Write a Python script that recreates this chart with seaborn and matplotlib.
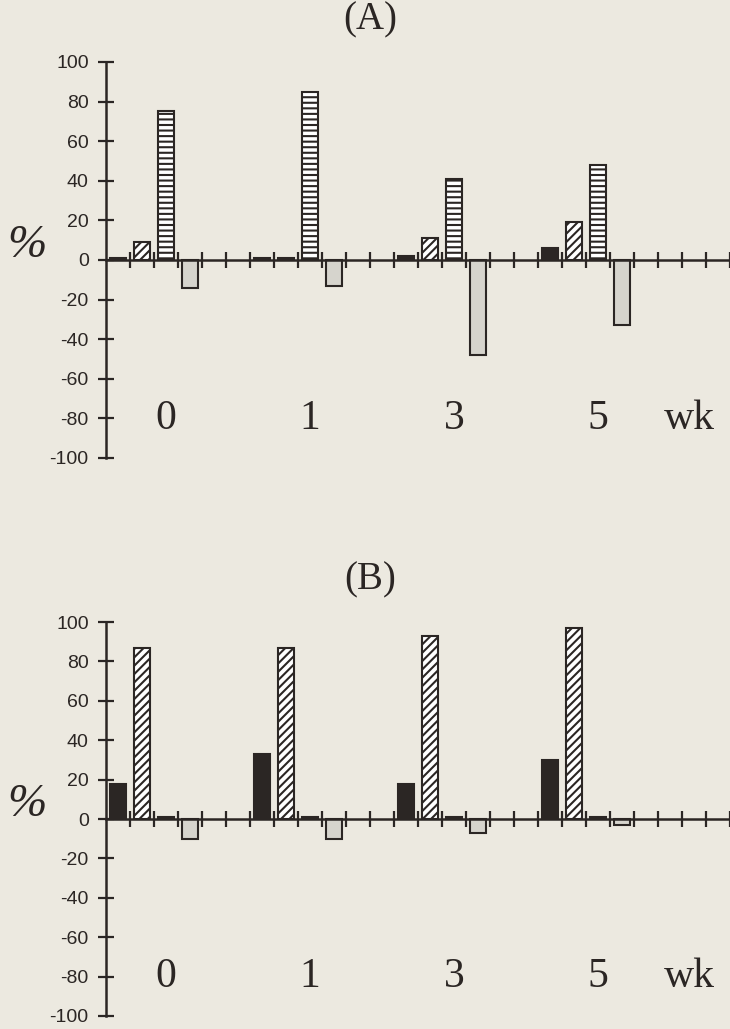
import matplotlib
matplotlib.use("Agg")
import matplotlib.pyplot as plt
import seaborn as sns
import pandas as pd
import numpy as np

# ---------------- data ----------------
weeks = ["0", "1", "3", "5"]
series = ["solid", "diag", "stripe", "dot"]

a_solid = [1, 1, 2, 6]
a_diag = [9, 1, 11, 19]
a_stripe = [75, 85, 41, 48]
a_dot = [-14, -13, -48, -33]

b_solid = [18, 33, 18, 30]
b_diag = [87, 87, 93, 97]
b_stripe = [1, 1, 1, 1]
b_dot = [-10, -10, -7, -3]

yticks = [-100, -80, -60, -40, -20, 0, 20, 40, 60, 80, 100]

# ---------------- style ----------------
BG = "#ECE9E0"
INK = "#2b2624"
sns.set_theme(style="white")
plt.rcParams["font.family"] = ["Liberation Sans", "DejaVu Sans"]
plt.rcParams["hatch.linewidth"] = 1.5
plt.rcParams["hatch.color"] = INK

n_slots = 26
slots_per_group = 6

faces = {"solid": INK, "diag": "white", "stripe": "white", "dot": "#d6d4cd"}
hatches = {"solid": None, "diag": "////", "stripe": "---", "dot": None}


def make_df(vals):
    rows = []
    for s_i, s in enumerate(series):
        for g_i, v in enumerate(vals[s_i]):
            rows.append({"slot": g_i * slots_per_group + s_i, "value": v, "series": s})
    return pd.DataFrame(rows)


fig = plt.figure(figsize=(7.30, 10.29), dpi=100, facecolor=BG)

W, H = 730, 1029
axA = fig.add_axes([106 / W, 1 - 458 / H, 624 / W, 396 / H])
axB = fig.add_axes([106 / W, 1 - 1016 / H, 624 / W, 394 / H])

panels = [
    (axA, [a_solid, a_diag, a_stripe, a_dot], "(A)", 20, 246),
    (axB, [b_solid, b_diag, b_stripe, b_dot], "(B)", 580, 805),
]

for ax, vals, title, ty, py in panels:
    ax.set_facecolor("none")
    df = make_df(vals)
    sns.barplot(data=df, x="slot", y="value", hue="series",
                order=list(range(n_slots)), hue_order=series,
                palette=faces, dodge=False, width=0.63,
                edgecolor=INK, linewidth=1.5, saturation=1,
                legend=False, ax=ax, zorder=3)
    for cont, s in zip(ax.containers, series):
        for p in cont.patches:
            p.set_facecolor(faces[s])
            p.set_edgecolor(INK)
            if hatches[s]:
                p.set_hatch(hatches[s])
    ax.set_xlim(-0.5, n_slots - 0.5)
    ax.set_ylim(-100, 100)
    ax.set_yticks(yticks)
    ax.set_yticklabels([str(t) for t in yticks])
    ax.set_xticks(np.arange(0.5, n_slots, 1.0))
    ax.set_xticklabels([])
    ax.set_xlabel("")
    ax.set_ylabel("")
    for side in ["top", "right"]:
        ax.spines[side].set_visible(False)
    ax.spines["bottom"].set_position(("data", 0))
    for side in ["left", "bottom"]:
        ax.spines[side].set_color(INK)
        ax.spines[side].set_linewidth(1.8)
        ax.spines[side].set_zorder(4)
    ax.tick_params(axis="y", direction="inout", length=11, width=1.6,
                   color=INK, labelcolor=INK, labelsize=14, pad=7, left=True)
    ax.tick_params(axis="x", direction="inout", length=11, width=1.6,
                   color=INK, bottom=True)
    ax.grid(False)
    for g_i, w in enumerate(weeks):
        ax.text(g_i * slots_per_group + 2, -80, w, ha="center", va="center",
                fontsize=30, family="Liberation Serif", color=INK)
    ax.text(23.8, -80, "wk", ha="center", va="center",
            fontsize=30, family="Liberation Serif", color=INK)
    fig.text(370 / W, 1 - ty / H, title, ha="center", va="center",
             fontsize=28, family="Liberation Serif", color=INK)
    fig.text(27 / W, 1 - py / H, "%", ha="center", va="center",
             fontsize=34, family="Liberation Serif", style="italic", color=INK)

fig.savefig("out.png", dpi=100, facecolor=BG)
